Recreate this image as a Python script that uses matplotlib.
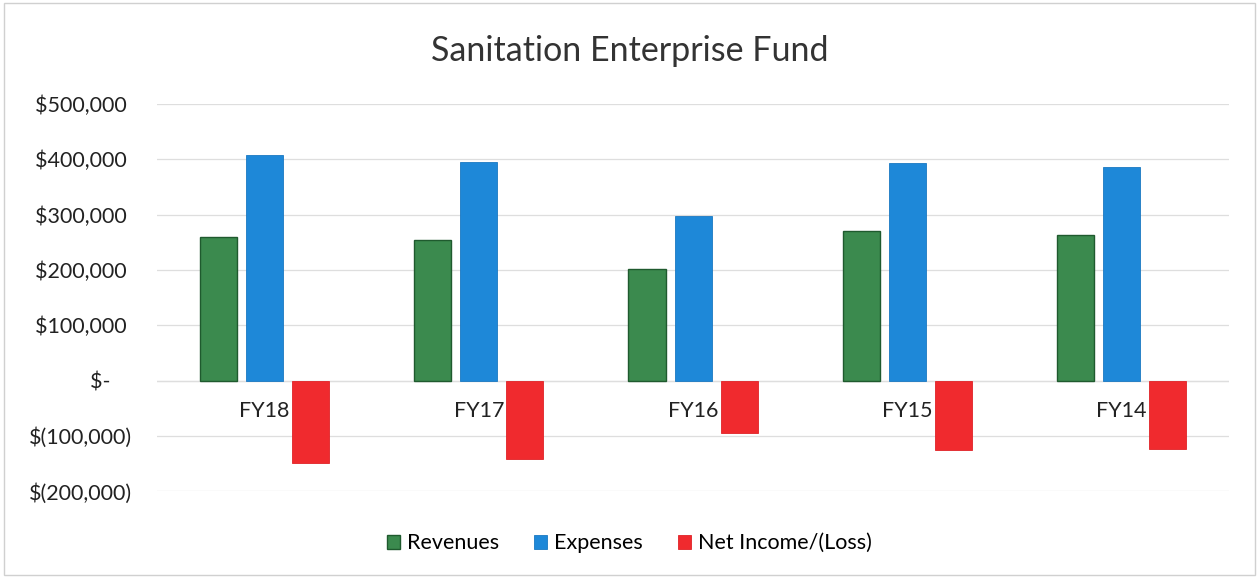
import numpy as np
import matplotlib
matplotlib.use('Agg')
import matplotlib.pyplot as plt
from matplotlib.patches import Rectangle

# Datos
anios = ['FY18', 'FY17', 'FY16', 'FY15', 'FY14']
ingresos = [259000, 254000, 202000, 271000, 264000]
gastos = [407000, 395000, 297000, 394000, 387000]
neto = [-148000, -141000, -94000, -125000, -123000]
ticks_y = [-200000, -100000, 0, 100000, 200000, 300000, 400000, 500000]

plt.rcParams['font.family'] = ['Lato', 'DejaVu Sans']


def formato_moneda(v):
    if v == 0:
        return '$-    '
    if v < 0:
        return f'$({abs(v):,.0f})'
    return f'${v:,.0f} '


fig = plt.figure(figsize=(12.59, 5.78), dpi=100)
ax = fig.add_axes([0.125, 0.150, 0.851, 0.670])

x = np.arange(len(anios))
ancho = 0.173
paso = 0.215

ax.bar(x - paso, ingresos, ancho, color='#3b8a4e', edgecolor='#1f5a2e',
       linewidth=1.0, label='Revenues')
ax.bar(x, gastos, ancho, color='#1e88d8', edgecolor='#1a78c2',
       linewidth=0.6, label='Expenses')
ax.bar(x + paso, neto, ancho, color='#f02a2e', edgecolor='#e02226',
       linewidth=0.6, label='Net Income/(Loss)')

ax.set_ylim(-200000, 500000)
ax.set_xlim(-0.5, len(anios) - 0.5)
ax.set_yticks(ticks_y)
ax.set_yticklabels([formato_moneda(v) for v in ticks_y], fontsize=15.5,
                   color='#222222')
ax.tick_params(axis='y', length=0, pad=18)
ax.set_xticks([])

# Etiquetas de categoria junto al eje cero
for xi, nombre in zip(x, anios):
    ax.text(xi, -55000, nombre, ha='center', va='center', fontsize=15.5,
            color='#222222')

ax.grid(axis='y', color='#dedede', linewidth=0.9)
ax.set_axisbelow(True)
ax.axhline(0, color='#d9d9d9', linewidth=0.9, zorder=0)
for s in ax.spines.values():
    s.set_visible(False)

fig.text(0.5, 0.912, 'Sanitation Enterprise Fund', ha='center', va='center',
         fontsize=24.5, color='#333333')

fig.legend(loc='center', bbox_to_anchor=(0.5, 0.06), ncol=3, frameon=False,
           fontsize=15.5, handlelength=0.6, handleheight=0.6,
           columnspacing=1.6, handletextpad=0.35)

fig.patches.append(Rectangle((0.003, 0.005), 0.994, 0.99,
                             transform=fig.transFigure, fill=False,
                             edgecolor='#d0d0d0', linewidth=1.0))

plt.savefig('out.png', dpi=100)
plt.close()
